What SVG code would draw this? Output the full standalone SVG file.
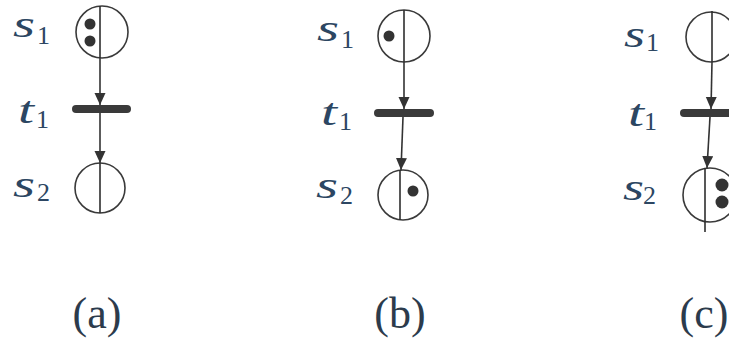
<svg xmlns="http://www.w3.org/2000/svg" width="729" height="342" viewBox="0 0 729 342">
<style>
.place{fill:none;stroke:#3a3a3a;stroke-width:1.6}
.div{stroke:#2e2e2e;stroke-width:1.6}
.tok{fill:#333}
.bar{stroke:#3a3a3a;stroke-width:8;stroke-linecap:round}
.arc{stroke:#333;stroke-width:1.6;fill:none;marker-end:url(#ah)}
.lbl{font-family:"Liberation Serif","DejaVu Serif","Times New Roman",serif;fill:#2c4662}
.v{font-style:italic;font-size:37px}
.sub{font-size:26px}
.cap{font-family:"Liberation Serif","DejaVu Serif","Times New Roman",serif;font-size:44px;fill:#2c3b4c;text-anchor:middle}
</style>
<defs>
<marker id="ah" markerUnits="userSpaceOnUse" markerWidth="12" markerHeight="15" refX="12" refY="5.5" orient="auto">
<path d="M0,0 L12,5.5 L0,11 Z" fill="#333"/>
</marker>
</defs>
<rect width="729" height="342" fill="#fff"/>

<!-- Panel (a) -->
<g id="a-s1">
<circle class="place" cx="102" cy="32" r="26"/>
<line class="div" x1="100" y1="6" x2="100" y2="58"/>
<circle class="tok" cx="90" cy="24" r="5.5"/>
<circle class="tok" cx="90" cy="41" r="5.5"/>
<text class="lbl v" x="13" y="37" textLength="22" lengthAdjust="spacingAndGlyphs">s</text>
<text class="lbl sub" x="37" y="44">1</text>
</g>
<g id="a-t1">
<line class="bar" x1="76" y1="109" x2="127" y2="109"/>
<text class="lbl v" x="18" y="123" textLength="16" lengthAdjust="spacingAndGlyphs">t</text>
<text class="lbl sub" x="36" y="128">1</text>
</g>
<g id="a-s2">
<circle class="place" cx="100" cy="188" r="25"/>
<line class="div" x1="100" y1="163" x2="100" y2="213"/>
<text class="lbl v" x="13" y="197" textLength="22" lengthAdjust="spacingAndGlyphs">s</text>
<text class="lbl sub" x="37" y="201">2</text>
</g>

<!-- Panel (b) -->
<g id="b-s1">
<circle class="place" cx="404" cy="36" r="26"/>
<line class="div" x1="404" y1="10" x2="404" y2="62"/>
<circle class="tok" cx="389" cy="36" r="5.5"/>
<text class="lbl v" x="317" y="41" textLength="22" lengthAdjust="spacingAndGlyphs">s</text>
<text class="lbl sub" x="341" y="48">1</text>
</g>
<g id="b-t1">
<line class="bar" x1="378" y1="113" x2="430" y2="113"/>
<text class="lbl v" x="321" y="125" textLength="16" lengthAdjust="spacingAndGlyphs">t</text>
<text class="lbl sub" x="339" y="130">1</text>
</g>
<g id="b-s2">
<circle class="place" cx="403" cy="195" r="25"/>
<line class="div" x1="400" y1="170" x2="400" y2="220"/>
<circle class="tok" cx="413" cy="191" r="5.5"/>
<text class="lbl v" x="316" y="198" textLength="22" lengthAdjust="spacingAndGlyphs">s</text>
<text class="lbl sub" x="340" y="204">2</text>
</g>

<!-- Panel (c) -->
<g id="c-s1">
<circle class="place" cx="711" cy="37" r="25"/>
<line class="div" x1="712" y1="11" x2="712" y2="62"/>
<text class="lbl v" x="624" y="47" textLength="21" lengthAdjust="spacingAndGlyphs">s</text>
<text class="lbl sub" x="646" y="51">1</text>
</g>
<g id="c-t1">
<line class="bar" x1="684" y1="113" x2="740" y2="113"/>
<text class="lbl v" x="628" y="126" textLength="16" lengthAdjust="spacingAndGlyphs">t</text>
<text class="lbl sub" x="644" y="130">1</text>
</g>
<g id="c-s2">
<circle class="place" cx="710" cy="195" r="27"/>
<line class="div" x1="705" y1="168" x2="705" y2="232"/>
<circle class="tok" cx="722" cy="185" r="6.5"/>
<circle class="tok" cx="722" cy="202" r="6.5"/>
<text class="lbl v" x="623" y="200" textLength="21" lengthAdjust="spacingAndGlyphs">s</text>
<text class="lbl sub" x="643" y="204">2</text>
</g>

<g id="connectors">
<line class="arc" x1="100" y1="58" x2="100" y2="105"/>
<line class="arc" x1="100" y1="113" x2="100" y2="163"/>
<line class="arc" x1="404" y1="62" x2="404" y2="109"/>
<line class="arc" x1="403" y1="117" x2="401" y2="170"/>
<line class="arc" x1="712" y1="62" x2="711" y2="109"/>
<line class="arc" x1="710" y1="117" x2="707" y2="168"/>
</g>

<g id="captions">
<text class="cap" x="97" y="328">(a)</text>
<text class="cap" x="400" y="328">(b)</text>
<text class="cap" x="704" y="328">(c)</text>
</g>
</svg>
